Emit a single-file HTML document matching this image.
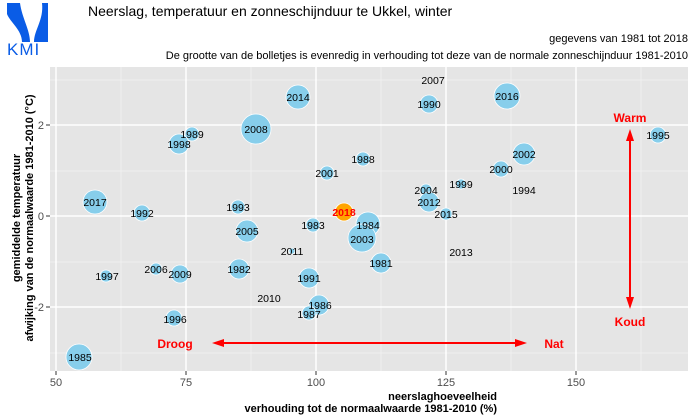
<!DOCTYPE html>
<html><head><meta charset="utf-8"><style>
body{margin:0;background:#fff;width:700px;height:420px;overflow:hidden}
svg{display:block;font-family:"Liberation Sans",sans-serif}
</style></head><body>
<svg width="700" height="420" viewBox="0 0 700 420" xmlns="http://www.w3.org/2000/svg">
<g fill="#0a5ce6">
<path d="M7,3 L20,3 C22,18 30,30 30,42 L22,42 C22,30 10,22 7,14 Z"/>
<path d="M48,3 L48,42 L34,42 C34,30 44,20 42,3 Z"/>
<text x="7" y="55" font-size="17" fill="#0a5ce6" style="letter-spacing:1px">KMI</text>
</g>
<text x="88" y="16" font-size="14" fill="#000">Neerslag, temperatuur en zonneschijnduur te Ukkel, winter</text>
<text x="688" y="42" font-size="11" text-anchor="end">gegevens van 1981 tot 2018</text>
<text x="688" y="59" font-size="11" text-anchor="end">De grootte van de bolletjes is evenredig in verhouding tot deze van de normale zonneschijnduur 1981-2010</text>
<rect x="50" y="67" width="638" height="304" fill="#e5e5e5"/>
<g stroke="#f2f2f2" stroke-width="0.8">
<line x1="121" y1="67" x2="121" y2="371"/><line x1="251" y1="67" x2="251" y2="371"/><line x1="381" y1="67" x2="381" y2="371"/><line x1="511" y1="67" x2="511" y2="371"/><line x1="641" y1="67" x2="641" y2="371"/>
<line x1="50" y1="80" x2="688" y2="80"/><line x1="50" y1="171" x2="688" y2="171"/><line x1="50" y1="262" x2="688" y2="262"/><line x1="50" y1="353" x2="688" y2="353"/>
</g>
<g stroke="#fff" stroke-width="1.5">
<line x1="56" y1="67" x2="56" y2="371"/><line x1="186" y1="67" x2="186" y2="371"/><line x1="316" y1="67" x2="316" y2="371"/><line x1="446" y1="67" x2="446" y2="371"/><line x1="576" y1="67" x2="576" y2="371"/>
<line x1="50" y1="125" x2="688" y2="125"/><line x1="50" y1="216" x2="688" y2="216"/><line x1="50" y1="307" x2="688" y2="307"/>
</g>
<g stroke="#333" stroke-width="1">
<line x1="56" y1="371" x2="56" y2="375"/><line x1="186" y1="371" x2="186" y2="375"/><line x1="316" y1="371" x2="316" y2="375"/><line x1="446" y1="371" x2="446" y2="375"/><line x1="576" y1="371" x2="576" y2="375"/>
<line x1="46" y1="125" x2="50" y2="125"/><line x1="46" y1="216" x2="50" y2="216"/><line x1="46" y1="307" x2="50" y2="307"/>
</g>
<g font-size="11" fill="#4d4d4d" text-anchor="middle">
<text x="56" y="386">50</text><text x="186" y="386">75</text><text x="316" y="386">100</text><text x="446" y="386">125</text><text x="576" y="386">150</text>
</g>
<g font-size="11" fill="#4d4d4d" text-anchor="end">
<text x="44" y="129">2</text><text x="44" y="220">0</text><text x="44" y="311">-2</text>
</g>
<g font-size="11" font-weight="bold" text-anchor="end">
<text x="497" y="400">neerslaghoeveelheid</text>
<text x="497" y="412">verhouding tot de normaalwaarde 1981-2010 (%)</text>
</g>
<g font-size="11" font-weight="bold" text-anchor="middle">
<text transform="translate(20,218) rotate(-90)">gemiddelde temperatuur</text>
<text transform="translate(33,218) rotate(-90)">afwijking van de normaalwaarde 1981-2010 (°C)</text>
</g>
<g fill="#87ceeb" stroke="#fff" stroke-width="0.8">
<circle cx="79" cy="357" r="13"/><circle cx="95" cy="202" r="12"/><circle cx="142" cy="213" r="8"/>
<circle cx="106" cy="276" r="6"/><circle cx="156" cy="269" r="6"/><circle cx="180" cy="274" r="9"/>
<circle cx="174" cy="318" r="8"/><circle cx="192" cy="134" r="7"/><circle cx="179" cy="144" r="10"/>
<circle cx="256" cy="129" r="15"/><circle cx="298" cy="97" r="12"/><circle cx="238" cy="207" r="7"/>
<circle cx="247" cy="231" r="11"/><circle cx="239" cy="269" r="10"/><circle cx="292" cy="251" r="3"/>
<circle cx="313" cy="225" r="7"/><circle cx="309" cy="278" r="10"/><circle cx="319" cy="305" r="10"/>
<circle cx="309" cy="313" r="7"/><circle cx="327" cy="173" r="7"/><circle cx="363" cy="159" r="7"/>
<circle cx="368" cy="224" r="12"/><circle cx="362" cy="238" r="14"/><circle cx="381" cy="263" r="10"/>
<circle cx="429" cy="104" r="9"/><circle cx="507" cy="96" r="13"/><circle cx="426" cy="190" r="6"/>
<circle cx="429" cy="202" r="10"/><circle cx="446" cy="214" r="6"/><circle cx="461" cy="184" r="5"/>
<circle cx="501" cy="169" r="8"/><circle cx="524" cy="154" r="11"/><circle cx="658" cy="135" r="8"/>
<circle cx="344" cy="212" r="9" fill="#ffa500"/>
</g>
<g font-size="10.5" text-anchor="middle" fill="#000">
<text x="80" y="361">1985</text><text x="95" y="206">2017</text><text x="142" y="217">1992</text>
<text x="107" y="280">1997</text><text x="156" y="273">2006</text><text x="180" y="278">2009</text>
<text x="175" y="323">1996</text><text x="192" y="138">1989</text><text x="179" y="148">1998</text>
<text x="256" y="133">2008</text><text x="298" y="101">2014</text><text x="238" y="211">1993</text>
<text x="247" y="235">2005</text><text x="239" y="273">1982</text><text x="292" y="255">2011</text>
<text x="313" y="229">1983</text><text x="269" y="302">2010</text><text x="309" y="282">1991</text>
<text x="320" y="309">1986</text><text x="309" y="318">1987</text><text x="327" y="177">2001</text>
<text x="363" y="163">1988</text><text x="368" y="229">1984</text><text x="362" y="243">2003</text>
<text x="381" y="267">1981</text><text x="429" y="108">1990</text><text x="433" y="84">2007</text>
<text x="507" y="100">2016</text><text x="426" y="194">2004</text><text x="429" y="206">2012</text>
<text x="446" y="218">2015</text><text x="461" y="188">1999</text><text x="461" y="256">2013</text>
<text x="501" y="173">2000</text><text x="524" y="158">2002</text><text x="524" y="194">1994</text>
<text x="658" y="139">1995</text>
<text x="344" y="216" fill="#ff0000" font-weight="bold">2018</text>
</g>
<g stroke="#ff0000" stroke-width="2" fill="#ff0000">
<line x1="220" y1="343" x2="518" y2="343"/>
<line x1="630" y1="138" x2="630" y2="300"/>
</g>
<g fill="#ff0000">
<polygon points="212,343 224,339 224,347"/><polygon points="527,343 515,339 515,347"/>
<polygon points="630,129 626,141 634,141"/><polygon points="630,309 626,297 634,297"/>
</g>
<g font-size="12" font-weight="bold" fill="#ff0000" text-anchor="middle">
<text x="175" y="348">Droog</text><text x="554" y="348">Nat</text>
<text x="630" y="122">Warm</text><text x="630" y="326">Koud</text>
</g>
</svg>
</body></html>
